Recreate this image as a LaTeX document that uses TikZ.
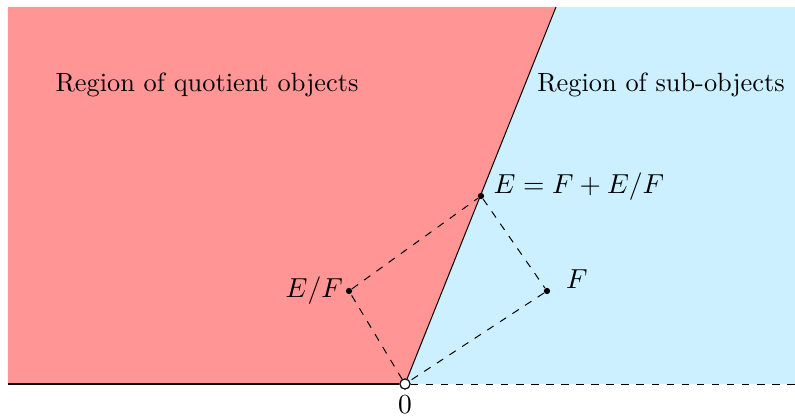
\documentclass[tikz,border=0pt]{standalone}
\usetikzlibrary{positioning}
\definecolor{quotred}{RGB}{255,149,149}
\definecolor{subblue}{RGB}{204,240,255}

\begin{document}
\begin{tikzpicture}[scale=0.7,font=\fontsize{10.5}{12.6}\selectfont,
        dot/.style={circle,fill,inner sep=0pt,minimum size=2.5pt},
        origin/.style={circle,draw,fill=white,inner sep=0pt,minimum size=4pt}]
        \useasboundingbox (-8.1,-0.7) rectangle (7.8,7.68);
        % corners of the two regions
        \coordinate (bl) at (-7.94,0);
        \coordinate (tl) at (-7.94,7.54);
        \coordinate (top) at (3.02,7.54);
        \coordinate (tr) at (7.8,7.54);
        \coordinate (br) at (7.8,0);
        \fill[quotred] (bl) -- (tl) -- (top) -- (0,0) -- cycle;
        \fill[subblue] (0,0) -- (top) -- (tr) -- (br) -- cycle;
        \node[align=center] (quot) at (-3.96,5.98) {Region of quotient objects};
        \node[align=center] (sub) at (5.12,5.98) {Region of sub-objects};
        % points
        \node[origin,label={[label distance=-1pt]below:$0$}] (O) at (0,0) {};
        \node[dot,label={[anchor=base west,yshift=1pt]right:$E = F + E/F$}] (E) at (1.52,3.76) {};
        \node[dot,label={[label distance=-2.5pt]left:$E/F$}] (EF) at (-1.12,1.86) {};
        \node[dot,label={[anchor=base west,xshift=2.6pt,yshift=1pt]right:$F$}] (F) at (2.84,1.86) {};
        \draw[thick] (bl) -- (O);
        \draw (O) -- (top);
        \draw[dashed] (O) -- (br);
        \draw[dashed] (O) -- (EF);
        \draw[dashed] (EF) -- (E);
        \draw[dashed] (E) -- (F);
        \draw[dashed] (F) -- (O);
        \node[origin] at (O) {};
    \end{tikzpicture}
\end{document}
